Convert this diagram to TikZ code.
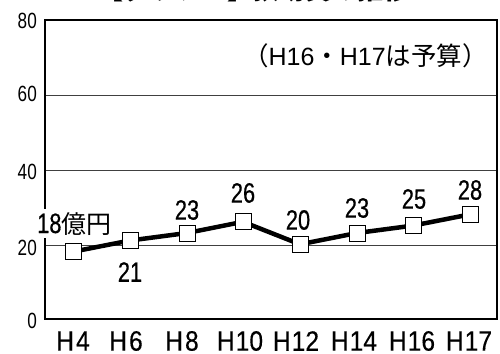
\documentclass[tikz,border=0pt]{standalone}
\usepackage{fontspec}
\setmainfont{Liberation Sans}
\newfontfamily\valfont[FakeStretch=0.78, FakeBold=0.5]{Liberation Sans}
\newfontfamily\tickfont[FakeStretch=0.78]{Liberation Sans}
\newfontfamily\xfont[FakeStretch=0.88, FakeBold=0.3]{Liberation Sans}
\newfontfamily\cjk{Noto Sans CJK JP}
\begin{document}
\begin{tikzpicture}[x=1pt,y=-1pt,
  frame/.style={line width=2.6pt},
  gridline/.style={line width=0.9pt, black!75},
  dataline/.style={line width=4.5pt, line join=round},
  marker/.style={draw, fill=white, line width=1pt, minimum size=16pt, inner sep=0pt},
  ticklab/.style={inner sep=0pt, font=\fontsize{22}{22}\selectfont\tickfont, anchor=east},
  xlab/.style={inner sep=0pt, font=\fontsize{28}{28}\selectfont\xfont},
  vallab/.style={inner sep=0pt, font=\fontsize{28}{28}\selectfont\valfont}
]
\useasboundingbox (0,0) rectangle (500,353);
% title (cut off at top)
\node[inner sep=0pt, anchor=base west, font=\fontsize{26}{26}\selectfont\cjk\bfseries] (title) at (97,0) {【グラフ２】扶助費の推移};
% grid
\draw[gridline] (45,95) -- (497,95);
\draw[gridline] (45,170) -- (497,170);
\draw[gridline] (45,245) -- (497,245);
% frame
\draw[frame] (45,20) rectangle (497,319);
% y tick labels
\node[ticklab] (y80) at (37,21) {80};
\node[ticklab] (y60) at (37,94) {60};
\node[ticklab] (y40) at (37,172) {40};
\node[ticklab] (y20) at (37,248) {20};
\node[ticklab] (y0) at (37,321) {0};
% x labels
\node[xlab] (x1) at (73,341) {H\kern2pt 4};
\node[xlab] (x2) at (126,341) {H\kern2pt 6};
\node[xlab] (x3) at (182,341) {H\kern2pt 8};
\node[xlab] (x4) at (240,341) {H\kern1pt 10};
\node[xlab] (x5) at (296,341) {H\kern1pt 12};
\node[xlab] (x6) at (354,341) {H\kern1pt 14};
\node[xlab] (x7) at (412,341) {H\kern1pt 16};
\node[xlab] (x8) at (469,341) {H\kern1pt 17};
% annotation
\node[inner sep=0pt, anchor=east, font=\fontsize{25}{25}\selectfont] (note) at (488,56)
  {{\cjk\fontsize{25.5}{25.5}\selectfont （}H16{\cjk\fontsize{25.5}{25.5}\selectfont ・}H17{\cjk\fontsize{25.5}{25.5}\selectfont は予算）}};
% data
\coordinate (c1) at (73,251.7);
\coordinate (c2) at (130,240.5);
\coordinate (c3) at (187,233.0);
\coordinate (c4) at (243,221.8);
\coordinate (c5) at (300,244.3);
\coordinate (c6) at (357,233.0);
\coordinate (c7) at (413,225.6);
\coordinate (c8) at (470,214.4);
\draw[dataline] (c1) -- (c2) -- (c3) -- (c4) -- (c5) -- (c6) -- (c7) -- (c8);
\foreach \i in {1,...,8} {\node[marker] (m\i) at (c\i) {};}
% value labels
\node[vallab, anchor=base west, fill=white, inner ysep=3pt] (v1) at (37,233) {18{\cjk\fontsize{25}{25}\selectfont 億円}};
\node[vallab] (v2) at (130,272) {21};
\node[vallab] (v3) at (187,210) {23};
\node[vallab] (v4) at (243,193) {26};
\node[vallab] (v5) at (298,220) {20};
\node[vallab] (v6) at (357,208) {23};
\node[vallab] (v7) at (414,199) {25};
\node[vallab] (v8) at (470,190) {28};
\end{tikzpicture}
\end{document}
